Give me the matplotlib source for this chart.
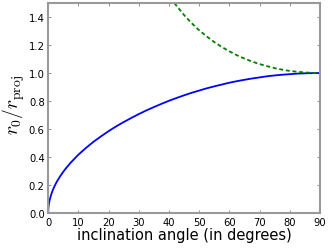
import matplotlib
matplotlib.use('Agg')
import matplotlib.pyplot as plt

plt.rcParams['mathtext.fontset'] = 'cm'

# inclination angle (deg) and r0/rproj
incl_blue = [0, 0.1, 0.25, 0.5, 1, 1.5, 2, 2.5, 3, 4, 5, 6, 7.5, 10, 12.5, 15, 17.5,
             20, 22.5, 25, 27.5, 30, 32.5, 35, 37.5, 40, 42.5, 45, 47.5, 50, 52.5,
             55, 57.5, 60, 62.5, 65, 67.5, 70, 72.5, 75, 77.5, 80, 82.5, 85, 87.5, 90]
ratio_blue = [0, 0.042, 0.066, 0.093, 0.132, 0.162, 0.187, 0.209, 0.229, 0.264,
              0.295, 0.323, 0.361, 0.417, 0.465, 0.509, 0.548, 0.585, 0.619, 0.650,
              0.679, 0.707, 0.733, 0.757, 0.780, 0.802, 0.822, 0.841, 0.859, 0.875,
              0.891, 0.905, 0.918, 0.931, 0.942, 0.952, 0.961, 0.969, 0.977, 0.983,
              0.988, 0.992, 0.996, 0.998, 0.9995, 1.0]

incl_green = [41.8, 42.5, 45, 47.5, 50, 52.5, 55, 57.5, 60, 62.5, 65, 67.5, 70,
              72.5, 75, 77.5, 80, 82.5, 85, 87.5, 90]
ratio_green = [1.500, 1.480, 1.414, 1.356, 1.305, 1.261, 1.221, 1.186, 1.155,
               1.127, 1.103, 1.082, 1.064, 1.049, 1.035, 1.024, 1.015, 1.009,
               1.004, 1.001, 1.0]

fig = plt.figure(figsize=(3.32, 2.51), dpi=100)
ax = fig.add_axes([0.145, 0.147, 0.819, 0.837])

ax.plot(incl_blue, ratio_blue, color='b', lw=1.3)
ax.plot(incl_green, ratio_green, color='g', lw=1.3, ls='--', dashes=(2.2, 1.5))

ax.set_xlim(0, 90)
ax.set_ylim(0, 1.5)
ax.set_xticks(range(0, 91, 10))
ax.set_yticks([0, 0.2, 0.4, 0.6, 0.8, 1.0, 1.2, 1.4])
ax.set_yticklabels(['0.0', '0.2', '0.4', '0.6', '0.8', '1.0', '1.2', '1.4'])
ax.tick_params(direction='in', top=True, right=True, labelsize=7.2, length=2.5,
               color='0.5', width=0.6, pad=2.5)
for s in ax.spines.values():
    s.set_color('0.6')
    s.set_linewidth(1.5)

ax.set_xlabel('inclination angle (in degrees)', fontsize=10.5, labelpad=0.5)
ax.set_ylabel(r'$r_0/r_{\rm proj}$', fontsize=14)
ax.yaxis.set_label_coords(-0.078, 0.52)

fig.savefig('out.png', dpi=100)
